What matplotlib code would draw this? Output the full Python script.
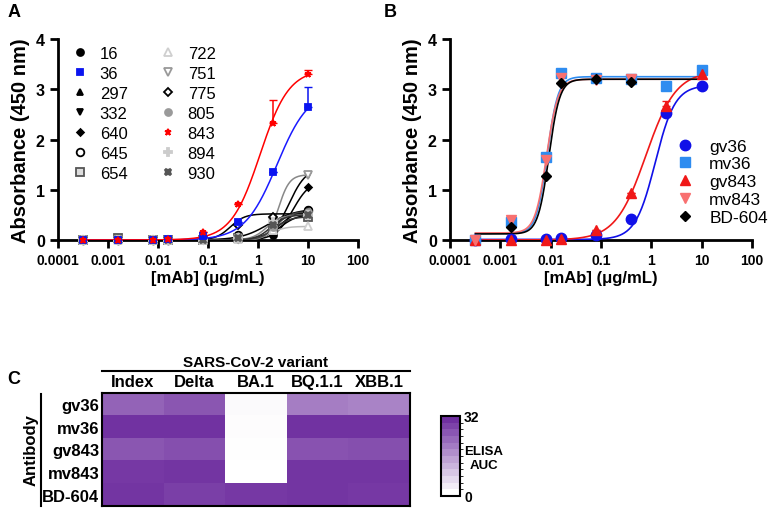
import numpy as np
import matplotlib
matplotlib.use('Agg')
import matplotlib.pyplot as plt
from matplotlib.colors import LinearSegmentedColormap, BoundaryNorm
from matplotlib.cm import ScalarMappable

plt.rcParams['font.family'] = ['Liberation Sans', 'DejaVu Sans']

####### DATA #######

# concentrations (ug/mL)
conc = [0.00032, 0.0016, 0.008, 0.016, 0.08, 0.4, 2, 10]

# panel A: screened mAbs
a_names = ['16', '36', '297', '332', '640', '645', '654',
           '722', '751', '775', '805', '843', '894', '930']
a_values = {
    '16':  [0.0, 0.0, 0.0, 0.0, 0.01, 0.03, 0.10, 0.60],
    '36':  [0.0, 0.0, 0.0, 0.01, 0.07, 0.36, 1.36, 2.64],
    '297': [0.0, 0.0, 0.01, 0.0, 0.0, 0.02, 0.20, 0.50],
    '332': [0.0, 0.0, 0.0, 0.0, 0.0, 0.02, 0.25, 1.30],
    '640': [0.0, 0.0, 0.0, 0.0, 0.0, 0.02, 0.15, 1.05],
    '645': [0.0, 0.0, 0.0, 0.0, 0.02, 0.10, 0.25, 0.60],
    '654': [0.0, 0.03, 0.0, 0.0, 0.0, 0.03, 0.20, 0.45],
    '722': [0.0, 0.0, 0.0, 0.0, 0.0, 0.02, 0.20, 0.27],
    '751': [0.0, 0.0, 0.0, 0.0, 0.0, 0.02, 0.35, 1.30],
    '775': [0.0, 0.0, 0.0, 0.0, 0.01, 0.30, 0.45, 0.55],
    '805': [0.0, 0.0, 0.0, 0.0, 0.0, 0.03, 0.25, 0.55],
    '843': [0.0, 0.0, 0.0, 0.02, 0.15, 0.71, 2.33, 3.30],
    '894': [0.0, 0.0, 0.0, 0.0, 0.0, 0.04, 0.35, 0.50],
    '930': [0.0, 0.0, 0.0, 0.0, 0.0, 0.03, 0.30, 0.50],
}
# upper error bars (only where visible)
a_err = {
    '36':  [0, 0, 0, 0, 0, 0, 0, 0.41],
    '843': [0, 0, 0, 0, 0, 0, 0.45, 0.08],
}
# 4PL fit: bottom, top, EC50, hill
a_fit = {
    '16':  [0.0, 0.62, 2.8, 2.2],
    '36':  [0.0, 3.0, 2.4, 1.35],
    '297': [0.0, 0.52, 2.8, 2.4],
    '332': [0.0, 1.45, 4.2, 2.5],
    '640': [0.0, 1.2, 5.0, 2.5],
    '645': [0.0, 0.62, 1.6, 1.6],
    '654': [0.0, 0.46, 2.2, 3.0],
    '722': [0.0, 0.27, 1.8, 3.0],
    '751': [0.0, 1.30, 2.6, 4.0],
    '775': [0.0, 0.52, 0.28, 3.0],
    '805': [0.0, 0.57, 2.3, 3.0],
    '843': [0.0, 3.4, 1.1, 1.5],
    '894': [0.0, 0.50, 1.5, 3.0],
    '930': [0.0, 0.50, 1.8, 3.0],
}

# panel B: germline vs mature variants
b_names = ['gv36', 'mv36', 'gv843', 'mv843', 'BD-604']
b_values = {
    'gv36':   [0.0, 0.01, 0.01, 0.04, 0.10, 0.41, 2.53, 3.07],
    'mv36':   [0.0, 0.35, 1.65, 3.33, 3.22, 3.21, 3.06, 3.38],
    'gv843':  [0.0, 0.0, 0.0, 0.01, 0.20, 0.93, 2.67, 3.30],
    'mv843':  [0.0, 0.40, 1.60, 3.22, 3.18, 3.20, np.nan, np.nan],
    'BD-604': [np.nan, 0.25, 1.27, 3.13, 3.20, 3.15, np.nan, np.nan],
}
b_err = {
    'gv843': [0, 0, 0, 0, 0, 0, 0.1, 0],
}
b_fit = {
    'gv36':   [0.01, 3.08, 1.2, 2.2],
    'mv36':   [0.13, 3.25, 0.0085, 4.0],
    'gv843':  [0.0, 3.36, 0.78, 1.45],
    'mv843':  [0.14, 3.20, 0.0083, 3.8],
    'BD-604': [0.12, 3.20, 0.0092, 4.0],
}

# panel C: ELISA AUC heatmap
variants = ['Index', 'Delta', 'BA.1', 'BQ.1.1', 'XBB.1']
antibodies = ['gv36', 'mv36', 'gv843', 'mv843', 'BD-604']
auc = [
    [24.0, 26.0, 0.8, 20.0, 19.0],
    [31.5, 31.5, 0.4, 31.5, 31.5],
    [26.0, 27.0, 0.2, 26.5, 27.0],
    [30.5, 31.0, 0.0, 31.0, 31.0],
    [31.0, 29.5, 30.5, 31.0, 30.5],
]

####### STYLE #######

a_style = {
    '16':  dict(marker='o', color='black', mfc='black', ms=5, lc='black'),
    '36':  dict(marker='s', color='#0a14f0', mfc='#0a14f0', ms=5, lc='#1a1aff'),
    '297': dict(marker='^', color='black', mfc='black', ms=5, lc='black'),
    '332': dict(marker='v', color='black', mfc='black', ms=5, lc='black'),
    '640': dict(marker='D', color='black', mfc='black', ms=3.5, lc='black'),
    '645': dict(marker='o', color='black', mfc='white', ms=5.5, lc='black'),
    '654': dict(marker='s', color='#555555', mfc='#dddddd', ms=5.5, lc='#333333'),
    '722': dict(marker='^', color='#cfcfcf', mfc='white', ms=6, lc='#bbbbbb'),
    '751': dict(marker='v', color='#999999', mfc='white', ms=6, lc='#888888'),
    '775': dict(marker='D', color='black', mfc='white', ms=4.5, lc='black'),
    '805': dict(marker='o', color='#9a9a9a', mfc='#9a9a9a', ms=5, lc='#444444'),
    '843': dict(marker='*', color='red', mfc='red', ms=5, lc='red'),
    '894': dict(marker='P', color='#cccccc', mfc='#cccccc', ms=5.5, lc='#888888'),
    '930': dict(marker='X', color='#555555', mfc='#555555', ms=5, lc='#333333'),
}
b_style = {
    'gv36':   dict(marker='o', color='#1010e8', ms=7.5),
    'mv36':   dict(marker='s', color='#2e8cf0', ms=7.5),
    'gv843':  dict(marker='^', color='#f01818', ms=7.5),
    'mv843':  dict(marker='v', color='#f87070', ms=7.5),
    'BD-604': dict(marker='D', color='black', ms=5.5),
}


def four_pl(x, p):
    bottom, top, ec50, hill = p
    return bottom + (top - bottom) / (1 + (ec50 / x) ** hill)


def style_curve_axes(ax):
    ax.set_xscale('log')
    ax.set_xlim(0.0001, 100)
    ax.set_ylim(0, 4)
    ax.set_xticks([0.0001, 0.001, 0.01, 0.1, 1, 10, 100])
    ax.set_xticklabels(['0.0001', '0.001', '0.01', '0.1', '1', '10', '100'])
    ax.minorticks_off()
    ax.set_yticks([0, 1, 2, 3, 4])
    for s in ['top', 'right']:
        ax.spines[s].set_visible(False)
    for s in ['left', 'bottom']:
        ax.spines[s].set_linewidth(2)
    ax.tick_params(width=2, length=6, labelsize=10)
    for lab in ax.get_xticklabels() + ax.get_yticklabels():
        lab.set_fontweight('bold')
    ax.tick_params(axis='y', labelsize=11.5)
    ax.set_xlabel('[mAb] (μg/mL)', fontsize=12, fontweight='bold', labelpad=2)
    ax.set_ylabel('Absorbance (450 nm)', fontsize=14.5, fontweight='bold', labelpad=4)


fig = plt.figure(figsize=(7.68, 5.1), dpi=100)

####### PANEL A #######
axA = fig.add_axes([0.0755, 0.5275, 0.3906, 0.394])
xs = np.logspace(np.log10(conc[0]), np.log10(conc[-1]), 300)
order = [n for n in a_names if n not in ('36', '843')] + ['36', '843']
for name in order:
    st = a_style[name]
    z = 5 if name in ('36', '843') else 3
    axA.plot(xs, four_pl(xs, a_fit[name]), color=st['lc'], lw=1.1, zorder=z)
    if name in a_err:
        axA.errorbar(conc, a_values[name], yerr=[np.zeros(len(conc)), a_err[name]],
                     fmt='none', ecolor=st['color'], elinewidth=1.1, capsize=3, zorder=z)
for name in order:
    st = a_style[name]
    z = 6 if name in ('36', '843') else 4
    axA.plot(conc, a_values[name], linestyle='none', marker=st['marker'], ms=st['ms'],
             mec=st['color'], mfc=st['mfc'], mew=1.3, zorder=z, clip_on=False)
# legend handles in original order
handles = []
for name in a_names:
    st = a_style[name]
    h, = axA.plot([], [], linestyle='none', marker=st['marker'], ms=st['ms'],
                  mec=st['color'], mfc=st['mfc'], mew=1.3, label=name)
    handles.append(h)
axA.legend(handles=handles, ncol=2, loc='upper left', bbox_to_anchor=(0.05, 0.965),
           frameon=False, fontsize=12, handlelength=0.8, handletextpad=0.8,
           columnspacing=2.0, labelspacing=0.3, borderpad=0, borderaxespad=0)
style_curve_axes(axA)

####### PANEL B #######
axB = fig.add_axes([0.586, 0.5275, 0.393, 0.394])
for name in b_names:
    st = b_style[name]
    axB.plot(xs, four_pl(xs, b_fit[name]), color=st['color'], lw=1.2, zorder=3)
    if name in b_err:
        axB.errorbar(conc, b_values[name], yerr=[np.zeros(len(conc)), b_err[name]],
                     fmt='none', ecolor=st['color'], elinewidth=1.1, capsize=3, zorder=3)
for name in b_names:
    st = b_style[name]
    axB.plot(conc, b_values[name], linestyle='none', marker=st['marker'], ms=st['ms'],
             color=st['color'], zorder=4, label=name, clip_on=False)
axB.legend(loc='upper left', bbox_to_anchor=(0.755, 0.505), frameon=False, fontsize=12.5,
           handlelength=0.8, handletextpad=1.0, labelspacing=0.15,
           borderpad=0, borderaxespad=0)
style_curve_axes(axB)

####### PANEL C #######
purple = LinearSegmentedColormap.from_list('wp', ['#ffffff', '#7030a0'])
axC = fig.add_axes([0.1328, 0.006, 0.401, 0.2216])
axC.imshow(np.array(auc), cmap=purple, vmin=0, vmax=32, aspect='auto')
axC.set_xticks(range(len(variants)))
axC.set_xticklabels(variants, fontsize=12, fontweight='bold')
axC.set_yticks(range(len(antibodies)))
axC.set_yticklabels(antibodies, fontsize=12, fontweight='bold')
axC.xaxis.tick_top()
axC.tick_params(axis='x', length=0, pad=3)
axC.tick_params(axis='y', length=0, pad=2)
for s in axC.spines.values():
    s.set_linewidth(1.5)

# variant header with rule
fig.text(0.3328, 0.288, 'SARS-CoV-2 variant', ha='center', va='center',
         fontsize=11, fontweight='bold')
fig.add_artist(plt.Line2D([0.1328, 0.534], [0.271, 0.271], color='black', lw=1.5))
# antibody label with rule
fig.text(0.040, 0.118, 'Antibody', ha='center', va='center', rotation=90,
         fontsize=12, fontweight='bold')
fig.add_artist(plt.Line2D([0.054, 0.054], [0.006, 0.225], color='black', lw=1.5))

# discrete colorbar
cax = fig.add_axes([0.574, 0.0255, 0.025, 0.157])
bounds = np.linspace(0, 32, 13)
sm = ScalarMappable(norm=BoundaryNorm(bounds, 256), cmap=purple)
cb = fig.colorbar(sm, cax=cax, ticks=[0, 32])
cb.ax.set_yticklabels(['0', '32'], fontsize=10, fontweight='bold')
cb.ax.tick_params(length=0, pad=3)
cb.outline.set_linewidth(1.5)
fig.text(0.630, 0.1, 'ELISA\nAUC', ha='center', va='center', fontsize=9.5,
         fontweight='bold', linespacing=1.2, multialignment='center')

# panel letters
for lbl, x, y in [('A', 0.01, 0.975), ('B', 0.5, 0.975), ('C', 0.01, 0.255)]:
    fig.text(x, y, lbl, fontsize=13, fontweight='bold', va='center')

fig.savefig('out.png', dpi=100)
